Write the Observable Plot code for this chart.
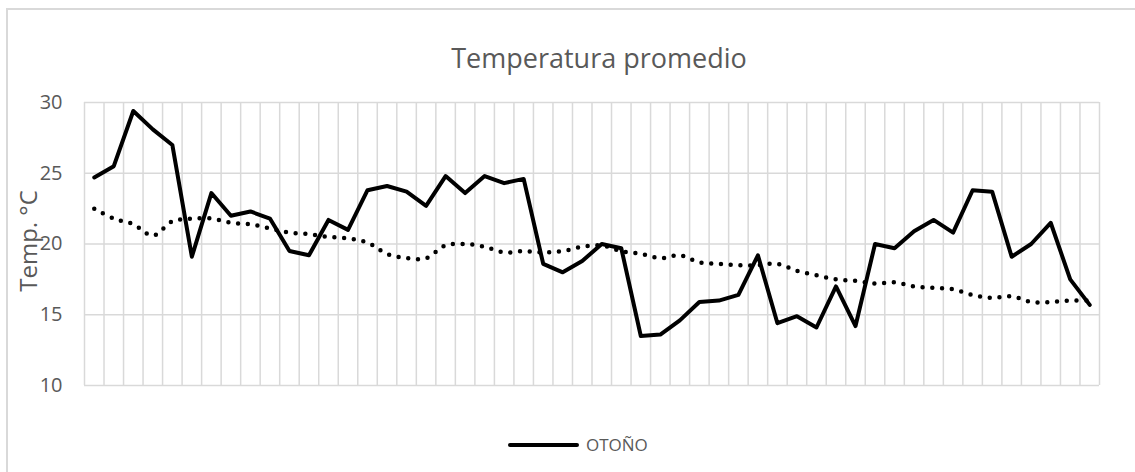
<!DOCTYPE html>
<html>
<head>
<meta charset="utf-8">
<script src="https://cdn.jsdelivr.net/npm/d3@7"></script>
<script src="https://cdn.jsdelivr.net/npm/@observablehq/plot@0.6"></script>
<style>
  html, body { margin: 0; padding: 0; background: #fff; overflow: hidden; }
  #wrap { position: relative; width: 1135px; height: 472px; font-family: "Open Sans", sans-serif; }
  #border { position: absolute; left: 6px; top: 8px; width: 1140px; height: 480px; border: 2px solid #d9d9d9; box-sizing: border-box; pointer-events: none; }
  #legend { position: absolute; left: 508px; top: 433px; display: flex; align-items: center; color: #595959; font-size: 17px; }
  #legend .sw { width: 71px; height: 4px; background: #000; border-radius: 2px; margin-right: 7px; }
</style>
</head>
<body>
<div id="wrap"><div id="border"></div><div id="chart"></div><div id="legend"><span class="sw"></span><span>OTOÑO</span></div></div>
<script>
const titulo = "Temperatura promedio";
const etiquetaY = "Temp. °C";
const serieNombre = "OTOÑO";
const dias = [1,2,3,4,5,6,7,8,9,10,11,12,13,14,15,16,17,18,19,20,21,22,23,24,25,26,27,28,29,30,31,32,33,34,35,36,37,38,39,40,41,42,43,44,45,46,47,48,49,50,51,52];
const otono = [24.7,25.5,29.4,28.1,27.0,19.1,23.6,22.0,22.3,21.8,19.5,19.2,21.7,21.0,23.8,24.1,23.7,22.7,24.8,23.6,24.8,24.3,24.6,18.6,18.0,18.8,20.0,19.7,13.5,13.6,14.6,15.9,16.0,16.4,19.2,14.4,14.9,14.1,17.0,14.2,20.0,19.7,20.9,21.7,20.8,23.8,23.7,19.1,20.0,21.5,17.5,15.7];
const tendencia = [22.5,21.8,21.4,20.6,21.6,21.8,21.8,21.5,21.4,21.1,20.8,20.7,20.5,20.4,20.1,19.3,19.0,19.0,19.9,20.0,19.8,19.4,19.5,19.4,19.5,19.8,19.9,19.5,19.3,19.0,19.2,18.7,18.6,18.5,18.5,18.6,18.1,17.8,17.5,17.4,17.2,17.3,17.0,16.9,16.8,16.4,16.2,16.3,15.9,15.9,16.0,16.0];
const yTicks = [10, 15, 20, 25, 30];

const data = dias.map((d, i) => ({dia: d, otono: otono[i], tendencia: tendencia[i]}));
const gridPos = [dias[0] - 0.5, ...dias.map(d => d + 0.5)];

const chart = Plot.plot({
  width: 1135,
  height: 472,
  marginLeft: 84,
  marginRight: 36,
  marginTop: 102,
  marginBottom: 87,
  style: {fontFamily: "Open Sans, sans-serif", color: "#595959", background: "transparent"},
  x: {type: "linear", domain: [dias[0] - 0.5, dias[dias.length - 1] + 0.5], axis: null},
  y: {domain: [10, 30]},
  marks: [
    Plot.gridY(yTicks, {stroke: "#d9d9d9", strokeOpacity: 1, strokeWidth: 1.5}),
    Plot.ruleX(gridPos, {stroke: "#d9d9d9", strokeWidth: 1.5}),
    Plot.axisY(yTicks, {tickSize: 0, tickPadding: 22, fontSize: 20, label: null}),
    Plot.text([titulo], {frameAnchor: "top", textAnchor: "middle", lineAnchor: "top", dx: 7, dy: -54, fontSize: 27, fill: "#595959"}),
    Plot.text([etiquetaY], {frameAnchor: "left", textAnchor: "middle", lineAnchor: "middle", dx: -55, dy: -3, rotate: -90, fontSize: 24, fill: "#595959"}),
    Plot.lineY(data, {x: "dia", y: "tendencia", stroke: "#000", strokeWidth: 4.5, strokeDasharray: "0,9.75", strokeLinecap: "round", curve: "catmull-rom"}),
    Plot.lineY(data, {x: "dia", y: "otono", stroke: "#000", strokeWidth: 4, strokeLinejoin: "round", strokeLinecap: "round"})
  ]
});
document.getElementById("chart").appendChild(chart);
</script>
</body>
</html>
